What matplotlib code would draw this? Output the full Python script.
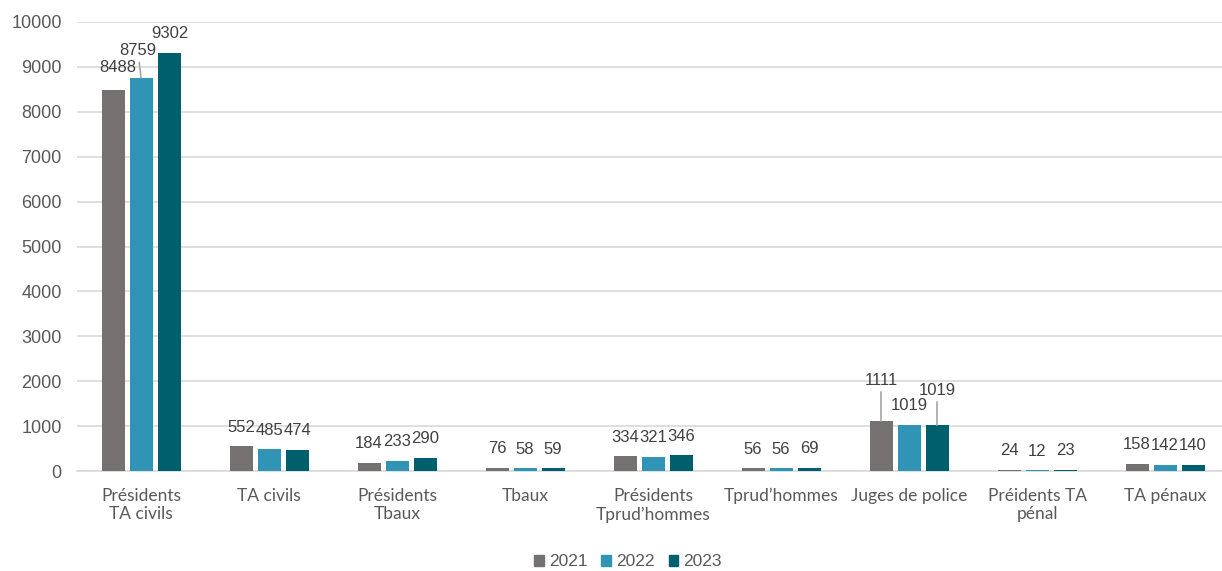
import numpy as np
import matplotlib.pyplot as plt
from matplotlib.patches import Patch

categories = ["Présidents\nTA civils", "TA civils", "Présidents\nTbaux", "Tbaux",
              "Présidents\nTprud’hommes", "Tprud’hommes", "Juges de police",
              "Préidents TA\npénal", "TA pénaux"]
years = ["2021", "2022", "2023"]
v2021 = [8488, 552, 184, 76, 334, 56, 1111, 24, 158]
v2022 = [8759, 485, 233, 58, 321, 56, 1019, 12, 142]
v2023 = [9302, 474, 290, 59, 346, 69, 1019, 23, 140]
colors = ["#767171", "#3094B4", "#005F6D"]

# label offsets in pixels (dx, dy, leader line) for the few shifted labels
special = {(0, 0): (5, 22, False), (0, 1): (-3, 27, True), (0, 2): (1, 20, False),
           (6, 0): (0, 41, True), (6, 1): (0, 20, False), (6, 2): (0, 35, True)}

plt.rcParams['font.family'] = ['Liberation Sans', 'DejaVu Sans']
fig = plt.figure(figsize=(12.22, 5.71), dpi=100)
ax = fig.add_axes([77 / 1222, 100 / 571, 1 - 77 / 1222, 449 / 571])

x = np.arange(len(categories))
step = 28 / 128
width = 23 / 128
px = 72 / 100
for s, vals in enumerate([v2021, v2022, v2023]):
    xs = x + (s - 1) * step
    ax.bar(xs, vals, width, color=colors[s], zorder=3, label=years[s])
    for i, v in enumerate(vals):
        dx, dy, lead = special.get((i, s), (0, 19, False))
        kw = {}
        if lead:
            kw['arrowprops'] = dict(arrowstyle='-', color='#A6A6A6', lw=1.2,
                                    shrinkA=1, shrinkB=0)
        ax.annotate(str(v), xy=(xs[i], v), xytext=(dx * px, dy * px),
                    textcoords='offset points', ha='center', va='center',
                    fontsize=12, color='#404040', **kw)

ax.set_xlim(-0.5, -0.5 + 1145 / 128)
ax.set_ylim(0, 10000)
ax.set_yticks(np.arange(0, 10001, 1000))
ax.yaxis.grid(True, color='#D9D9D9', lw=1.2, zorder=0)
ax.set_xticks(x)
ax.set_xticklabels(categories, family=['Lato', 'DejaVu Sans'], fontsize=12.5,
                   color='#595959', linespacing=1.2)
ax.tick_params(axis='x', length=0, pad=12)
ax.tick_params(axis='y', length=0, pad=11, labelsize=13, labelcolor='#595959')
for sp in ['top', 'right', 'left']:
    ax.spines[sp].set_visible(False)
ax.spines['bottom'].set_color('#D9D9D9')
ax.spines['bottom'].set_linewidth(1.2)

handles = [Patch(color=c) for c in colors]
fig.legend(handles, years, loc='center', bbox_to_anchor=(628 / 1222, 9 / 571),
           ncol=3, frameon=False, fontsize=12.5, handlelength=0.55, handleheight=0.55,
           handletextpad=0.3, columnspacing=0.8, labelcolor='#595959',
           borderpad=0.1)

fig.savefig("out.png", dpi=100)
